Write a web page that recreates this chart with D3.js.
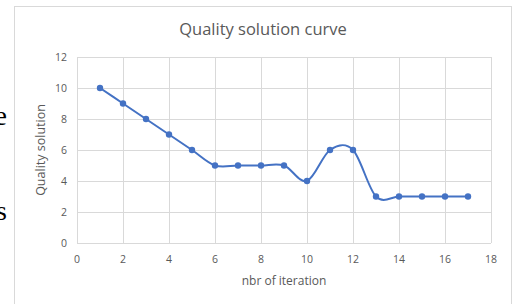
<!DOCTYPE html>
<html>
<head>
<meta charset="utf-8">
<script src="https://cdn.jsdelivr.net/npm/d3@7"></script>
<style>
  body { margin: 0; background: #fff; }
  svg text { font-family: "Open Sans", Lato, sans-serif; }
</style>
</head>
<body>
<div id="chart"></div>
<script>
var width = 516;
var height = 304;

// data
var iterations = [1, 2, 3, 4, 5, 6, 7, 8, 9, 10, 11, 12, 13, 14, 15, 16, 17];
var quality = [10, 9, 8, 7, 6, 5, 5, 5, 5, 4, 6, 6, 3, 3, 3, 3, 3];
var xTicks = [0, 2, 4, 6, 8, 10, 12, 14, 16, 18];
var yTicks = [0, 2, 4, 6, 8, 10, 12];

var margin = { left: 77, right: 25, top: 57, bottom: 61 };

var svg = d3.select("#chart")
  .append("svg")
  .attr("width", width)
  .attr("height", height)

// bits of the page text cut off at the left
svg.append("text")
  .attr("x", 7).attr("y", 125)
  .attr("text-anchor", "end")
  .style("font-family", "'Liberation Serif', serif")
  .style("font-size", "28px")
  .style("fill", "#000")
  .text("e")
svg.append("text")
  .attr("x", 7).attr("y", 220)
  .attr("text-anchor", "end")
  .style("font-family", "'Liberation Serif', serif")
  .style("font-size", "28px")
  .style("fill", "#000")
  .text("s")

// chart frame
svg.append("rect")
  .attr("x", 14.5).attr("y", 6.5)
  .attr("width", 497).attr("height", 310)
  .attr("fill", "#fff")
  .attr("stroke", "#d9d9d9")

var x = d3.scaleLinear().domain([0, 18]).range([margin.left, width - margin.right]);
var y = d3.scaleLinear().domain([0, 12]).range([height - margin.bottom, margin.top]);

// grid
svg.append("g")
  .selectAll("line")
  .data(yTicks)
  .join("line")
    .attr("x1", x(0)).attr("x2", x(18))
    .attr("y1", d => Math.round(y(d)) + 0.5).attr("y2", d => Math.round(y(d)) + 0.5)
    .attr("stroke", "#d9d9d9")

svg.append("g")
  .selectAll("line")
  .data(xTicks)
  .join("line")
    .attr("x1", d => Math.round(x(d)) + 0.5).attr("x2", d => Math.round(x(d)) + 0.5)
    .attr("y1", y(0)).attr("y2", y(12))
    .attr("stroke", "#d9d9d9")

// tick labels
svg.append("g")
  .selectAll("text")
  .data(yTicks)
  .join("text")
    .attr("x", 67)
    .attr("y", d => y(d))
    .attr("dy", "0.35em")
    .attr("text-anchor", "end")
    .style("font-size", "10.5px")
    .style("fill", "#595959")
    .text(d => d)

svg.append("g")
  .selectAll("text")
  .data(xTicks)
  .join("text")
    .attr("x", d => x(d))
    .attr("y", 263)
    .attr("text-anchor", "middle")
    .style("font-size", "10.5px")
    .style("fill", "#595959")
    .text(d => d)

// titles
svg.append("text")
  .attr("x", 263).attr("y", 35)
  .attr("text-anchor", "middle")
  .style("font-size", "16.5px")
  .style("fill", "#595959")
  .text("Quality solution curve")

svg.append("text")
  .attr("x", (x(0) + x(18)) / 2).attr("y", 285)
  .attr("text-anchor", "middle")
  .style("font-size", "12px")
  .style("fill", "#595959")
  .text("nbr of iteration")

svg.append("text")
  .attr("transform", "translate(45," + (y(0) + y(12)) / 2 + ") rotate(-90)")
  .attr("text-anchor", "middle")
  .style("font-size", "12.5px")
  .style("fill", "#595959")
  .text("Quality solution")

// smoothed line like excel
var points = iterations.map((d, i) => [d, quality[i]]);
var line = d3.line()
  .x(d => x(d[0]))
  .y(d => y(d[1]))
  .curve(d3.curveCatmullRom.alpha(0));

svg.append("path")
  .datum(points)
  .attr("d", line)
  .attr("fill", "none")
  .attr("stroke", "#4472c4")
  .attr("stroke-width", 2)

svg.append("g")
  .selectAll("circle")
  .data(points)
  .join("circle")
    .attr("cx", d => x(d[0]))
    .attr("cy", d => y(d[1]))
    .attr("r", 3.2)
    .attr("fill", "#4472c4")
</script>
</body>
</html>
